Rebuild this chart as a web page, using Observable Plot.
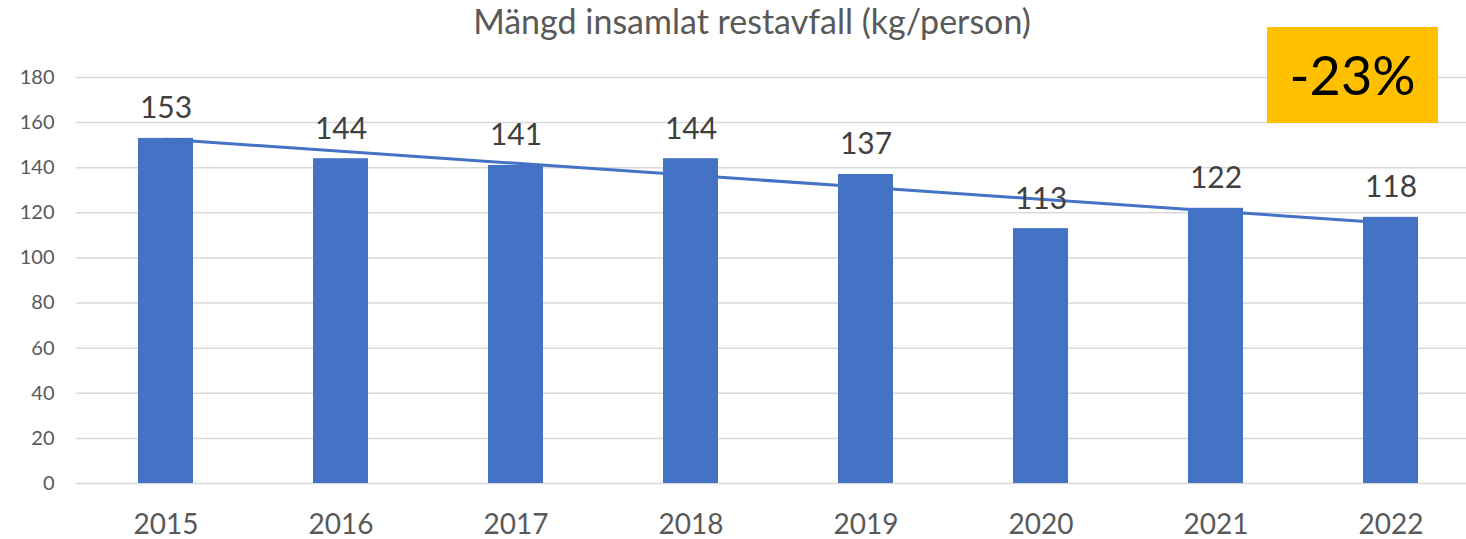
<!DOCTYPE html>
<html>
<head>
<meta charset="utf-8">
<script src="https://cdn.jsdelivr.net/npm/d3@7"></script>
<script src="https://cdn.jsdelivr.net/npm/@observablehq/plot@0.6"></script>
<style>
  html, body { margin: 0; padding: 0; background: #fff; overflow: hidden; width: 1466px; height: 539px; }
  #wrap { position: relative; width: 1466px; height: 539px; font-family: Lato, "Open Sans", sans-serif; }
  #title { position: absolute; left: 0; top: 4px; width: 1504px; text-align: center; font-size: 34px; line-height: 34px; color: #595959; white-space: nowrap; }
  #chart { position: absolute; left: 0; top: 50px; }
  #badge { position: absolute; left: 1267px; top: 27px; width: 171px; height: 96px; background: #FFC000; color: #000; font-size: 54px; line-height: 96px; text-align: center; }
</style>
</head>
<body>
<div id="wrap">
  <div id="title">Mängd insamlat restavfall (kg/person)</div>
  <div id="chart"></div>
  <div id="badge">-23%</div>
</div>
<script>
const years = ["2015", "2016", "2017", "2018", "2019", "2020", "2021", "2022"];
const values = [153, 144, 141, 144, 137, 113, 122, 118];
const yTicks = [0, 20, 40, 60, 80, 100, 120, 140, 160, 180];

const data = years.map((year, i) => ({year, value: values[i]}));

// Linear trend (least squares) computed from the data
const n = values.length;
const mx = (n - 1) / 2;
const my = d3.mean(values);
const slope = d3.sum(values, (v, i) => (i - mx) * (v - my)) / d3.sum(values, (v, i) => (i - mx) ** 2);
const trend = years.map((year, i) => ({year, value: my + slope * (i - mx)}));

const plot = Plot.plot({
  width: 1466,
  height: 489,
  marginLeft: 76,
  marginRight: 0,
  marginTop: 27,
  marginBottom: 56,
  style: {fontFamily: "Lato, 'Open Sans', sans-serif", overflow: "visible"},
  x: {type: "band", domain: years, range: [76, 1480], paddingInner: 0.687, paddingOuter: 0.3435},
  y: {domain: [0, 180]},
  marks: [
    Plot.ruleY(yTicks, {stroke: "#d9d9d9", strokeWidth: 1.5}),
    Plot.barY(data, {x: "year", y: "value", fill: "#4472C4"}),
    Plot.line(trend, {x: "year", y: "value", stroke: "#4472C4", strokeWidth: 3}),
    Plot.text(data, {x: "year", y: "value", text: d => String(d.value), lineAnchor: "bottom", dy: -20, fontSize: 30, fill: "#404040"}),
    Plot.axisY({ticks: yTicks, tickSize: 0, tickPadding: 22, fontSize: 20, color: "#595959", label: null}),
    Plot.axisX({tickSize: 0, tickPadding: 31, fontSize: 28, color: "#595959", label: null})
  ]
});
document.getElementById("chart").appendChild(plot);
</script>
</body>
</html>
